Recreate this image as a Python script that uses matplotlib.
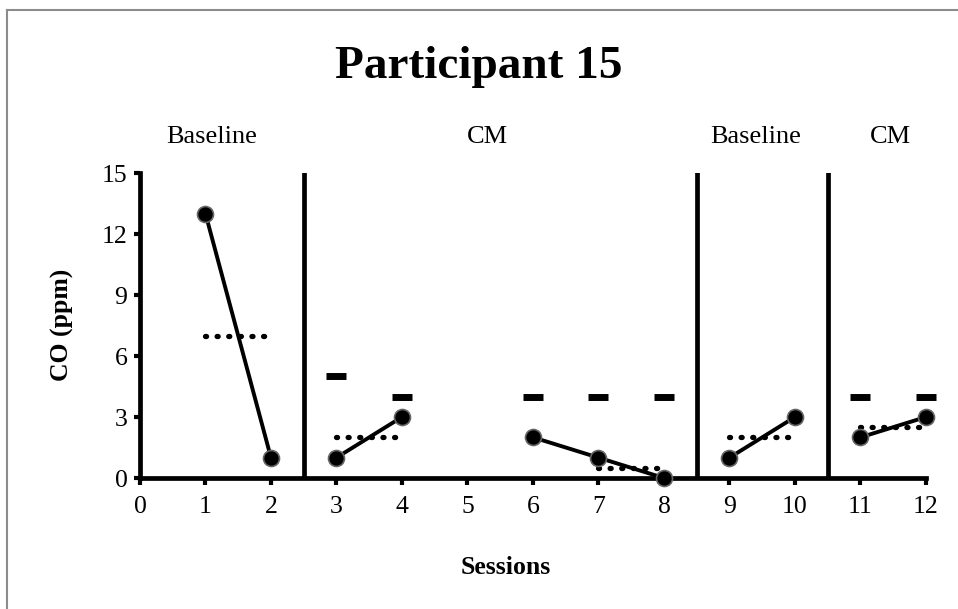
import numpy as np
import matplotlib.pyplot as plt
from matplotlib.lines import Line2D

plt.rcParams['font.family'] = ['Liberation Serif', 'DejaVu Serif']

# CO readings per session, split by phase segment (session 5 missing)
seg_sessions = [[1, 2], [3, 4], [6, 7, 8], [9, 10], [11, 12]]
seg_co = [[13, 1], [1, 3], [2, 1, 0], [1, 3], [2, 3]]

# phase means (dotted)
mean_x = [[1, 2], [3, 4], [7, 8], [9, 10], [11, 12]]
mean_y = [7, 2, 0.5, 2, 2.5]

# target criteria during CM
target_x = [3, 4, 6, 7, 8, 11, 12]
target_y = [5, 4, 4, 4, 4, 4, 4]

phase_changes = [2.5, 8.5, 10.5]
phase_names = ['Baseline', 'CM', 'Baseline', 'CM']
phase_label_x = [1.1, 5.3, 9.4, 11.45]

fig = plt.figure(figsize=(9.58, 6.09), dpi=100)
ax = fig.add_axes([0.1461, 0.2151, 0.8205, 0.5008])

for xs, ys in zip(mean_x, mean_y):
    ax.plot(xs, [ys, ys], color='black', lw=3.8, linestyle=(0, (0.2, 2.0)),
            dash_capstyle='round', clip_on=False, zorder=2)

ax.plot(target_x, target_y, linestyle='none', marker='_', ms=14.5, mew=5,
        color='black', clip_on=False, zorder=3)

for xs, ys in zip(seg_sessions, seg_co):
    ax.plot(xs, ys, color='black', lw=2.8, marker='o', ms=11.5,
            markerfacecolor='black', markeredgecolor='#666666', mew=1.2,
            clip_on=False, zorder=4)

for xc in phase_changes:
    ax.axvline(xc, ymin=0, ymax=1, color='black', lw=3.4, zorder=1)

for name, xp in zip(phase_names, phase_label_x):
    ax.text(xp, 16.77, name, ha='center', va='center', fontsize=19,
            clip_on=False)

ax.set_xlim(0, 12)
ax.set_ylim(0, 15)
ax.set_xticks(np.arange(0, 13))
ax.set_yticks(np.arange(0, 16, 3))
for side in ['top', 'right']:
    ax.spines[side].set_visible(False)
for side in ['left', 'bottom']:
    ax.spines[side].set_linewidth(3.4)
ax.tick_params(axis='x', direction='out', length=5, width=3, pad=8,
               labelsize=18.5)
ax.tick_params(axis='y', direction='out', length=4, width=3, pad=5,
               labelsize=18.5)

fig.text(506 / 958, 1 - 568 / 609, 'Sessions', ha='center', va='center',
         fontsize=18.5, fontweight='bold')
fig.text(62 / 958, 1 - 325 / 609, 'CO (ppm)', ha='center', va='center',
         rotation=90, fontsize=18.5, fontweight='bold')
fig.text(0.5, 1 - 67 / 609, 'Participant 15', ha='center', va='center',
         fontsize=34, fontweight='bold')

# frame around the figure
fig.add_artist(Line2D([7 / 958, 7 / 958], [0, 1 - 10 / 609],
                      transform=fig.transFigure, color='#8c8c8c', lw=1.5))
fig.add_artist(Line2D([7 / 958, 1], [1 - 10 / 609, 1 - 10 / 609],
                      transform=fig.transFigure, color='#8c8c8c', lw=1.5))

fig.savefig('out.png', dpi=100)
